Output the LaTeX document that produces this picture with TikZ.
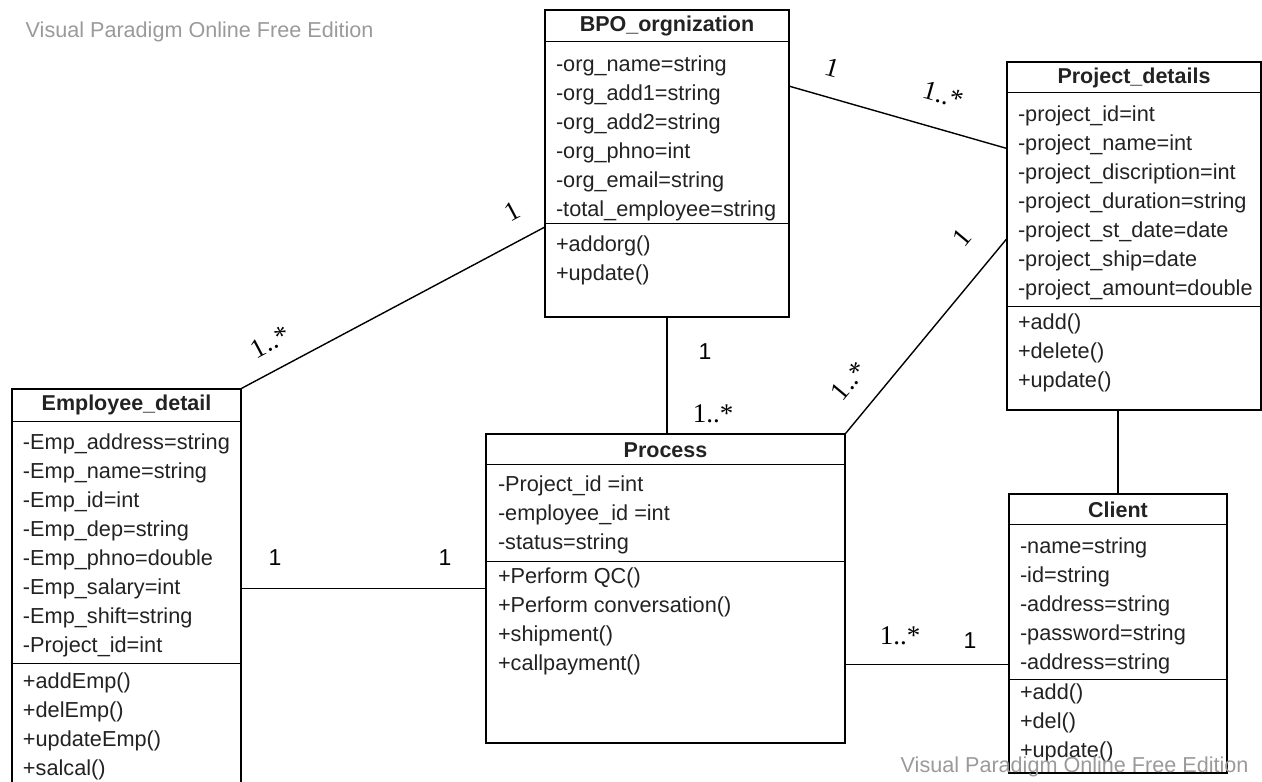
\documentclass[tikz,border=0pt]{standalone}
\usepackage{fontspec}
\setmainfont{Liberation Sans}
\newfontfamily\multfont{Liberation Serif}
\definecolor{wmgray}{HTML}{9A9A9A}
\definecolor{txtgray}{HTML}{222222}

\tikzset{
  classbox/.style={draw,line width=1.4pt,inner sep=0pt},
  classname/.style={inner sep=0pt,font=\fontsize{21.5}{25}\selectfont\bfseries,text=txtgray},
  member/.style={anchor=west,inner sep=0pt,text height=.75em,text depth=.25em,
    font=\fontsize{21.7}{25}\selectfont,text=txtgray},
  mult/.style={inner sep=0pt,font=\multfont\fontsize{27}{30}\selectfont},
  multsans/.style={inner sep=0pt,font=\fontsize{23}{26}\selectfont},
  watermark/.style={anchor=west,inner sep=0pt,font=\fontsize{21.6}{25}\selectfont,text=wmgray}
}

\begin{document}
\begin{tikzpicture}[x=1pt,y=-1pt,line width=1.4pt]
\useasboundingbox (0,0) rectangle (1262,782);

% class boxes
\node[classbox,minimum width=244pt,minimum height=307pt] (bpo) at (667,163.5) {};
\node[classbox,minimum width=254pt,minimum height=348pt] (proj) at (1134,236) {};
\node[classbox,minimum width=229pt,minimum height=411pt] (emp) at (126.5,594.5) {};
\node[classbox,minimum width=359pt,minimum height=309pt] (proc) at (665.5,588.5) {};
\node[classbox,minimum width=218pt,minimum height=279pt] (client) at (1118,633.5) {};

% compartments
\foreach \n/\h/\s in {bpo/32/214,proj/31/245,emp/33/275,proc/31/128,client/31/186}{
  \draw ([yshift=-\h pt]\n.north west)--([yshift=-\h pt]\n.north east);
  \draw ([yshift=-\s pt]\n.north west)--([yshift=-\s pt]\n.north east);
}

\node[classname] (bponame) at ([yshift=-17pt]bpo.north) {BPO\_orgnization};
\node[classname] (projname) at ([yshift=-17pt]proj.north) {Project\_details};
\node[classname] (empname) at ([yshift=-17pt]emp.north) {Employee\_detail};
\node[classname] (procname) at ([yshift=-17pt]proc.north) {Process};
\node[classname] (clientname) at ([yshift=-17pt]client.north) {Client};

\foreach \t [count=\i from 0] in {-org\_name=string,-org\_add1=string,-org\_add2=string,
    -org\_phno=int,-org\_email=string,-total\_employee=string}
  \node[member] (bpoa\i) at ([shift={(11,60+29*\i)}]bpo.north west) {\t};
\foreach \t [count=\i from 0] in {+addorg(),+update()}
  \node[member] (bpom\i) at ([shift={(11,240+29*\i)}]bpo.north west) {\t};

\foreach \t [count=\i from 0] in {-project\_id=int,-project\_name=int,-project\_discription=int,
    -project\_duration=string,-project\_st\_date=date,-project\_ship=date,-project\_amount=double}
  \node[member] (proja\i) at ([shift={(11,58+29*\i)}]proj.north west) {\t};
\foreach \t [count=\i from 0] in {+add(),+delete(),+update()}
  \node[member] (projm\i) at ([shift={(11,266+29*\i)}]proj.north west) {\t};

\foreach \t [count=\i from 0] in {-Emp\_address=string,-Emp\_name=string,-Emp\_id=int,
    -Emp\_dep=string,-Emp\_phno=double,-Emp\_salary=int,-Emp\_shift=string,-Project\_id=int}
  \node[member] (empa\i) at ([shift={(11,59+29*\i)}]emp.north west) {\t};
\foreach \t [count=\i from 0] in {+addEmp(),+delEmp(),+updateEmp(),+salcal()}
  \node[member] (empm\i) at ([shift={(11,298+29*\i)}]emp.north west) {\t};

\foreach \t [count=\i from 0] in {-Project\_id =int,-employee\_id =int,-status=string}
  \node[member] (proca\i) at ([shift={(12,56+29*\i)}]proc.north west) {\t};
\foreach \t [count=\i from 0] in {+Perform QC(),+Perform conversation(),+shipment(),+callpayment()}
  \node[member] (procm\i) at ([shift={(12,148+29*\i)}]proc.north west) {\t};

\foreach \t [count=\i from 0] in {-name=string,-id=string,-address=string,-password=string,-address=string}
  \node[member] (clienta\i) at ([shift={(11,58+29*\i)}]client.north west) {\t};
\foreach \t [count=\i from 0] in {+add(),+del(),+update()}
  \node[member] (clientm\i) at ([shift={(11,204+29*\i)}]client.north west) {\t};

% associations
\coordinate (pcend) at ([yshift=-171pt]client.north west);
\draw ([yshift=-218pt]bpo.north west)--(emp.north east);
\draw ([yshift=-77pt]bpo.north east)--([yshift=-87pt]proj.north west);
\draw ([yshift=-178pt]proj.north west)--(proc.north east);
\draw (bpo.south)--(bpo.south |- proc.north);
\draw (proc.west -| emp.east)--(proc.west);
\draw (pcend -| proc.east)--(pcend);
\draw (client.north)--(client.north |- proj.south);

% multiplicities
\node[mult,rotate=28] (m1) at (512,211) {1};
\node[mult,rotate=28] (m2) at (270,342) {1..*};
\node[mult,rotate=-16] (m3) at (832,68) {1};
\node[mult,rotate=-16] (m4) at (943,95) {1..*};
\node[mult,rotate=50] (m5) at (962,238) {1};
\node[mult,rotate=50] (m6) at (849,381) {1..*};
\node[multsans] (m7) at (705,352) {1};
\node[mult] (m8) at (713,414) {1..*};
\node[multsans] (m9) at (275,558) {1};
\node[multsans] (m10) at (445,558) {1};
\node[mult] (m11) at (900,636) {1..*};
\node[multsans] (m12) at (970,641) {1};

\node[watermark] (wm1) at (25,32) {Visual Paradigm Online Free Edition};
\node[watermark] (wm2) at (900,767) {Visual Paradigm Online Free Edition};
\end{tikzpicture}
\end{document}
